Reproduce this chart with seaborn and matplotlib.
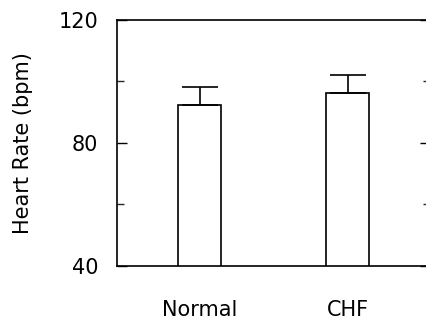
import matplotlib
matplotlib.use("Agg")
import matplotlib.pyplot as plt
from matplotlib.ticker import MultipleLocator
import seaborn as sns
import pandas as pd

groups = ["Normal", "CHF"]
heart_rate = [92.3, 96.3]
sem = [5.8, 5.8]
yticks = [40, 80, 120]

sns.set_style("ticks")
plt.rcParams["font.family"] = ["DejaVu Sans"]
plt.rcParams["axes.labelcolor"] = "black"
plt.rcParams["text.color"] = "black"

df = pd.DataFrame({"group": groups, "hr": heart_rate})

fig = plt.figure(figsize=(4.27, 3.21), dpi=100)
ax = fig.add_axes([117 / 427, 55.5 / 321, 313 / 427, 245.5 / 321])

sns.barplot(data=df, x="group", y="hr", color="white", edgecolor="black",
            linewidth=1.2, width=0.29, errorbar=None, ax=ax, saturation=1)
for p in ax.patches:
    p.set_facecolor("white")

ax.errorbar(range(len(groups)), heart_rate, yerr=[[0] * len(sem), sem],
            fmt="none", ecolor="black", elinewidth=1.2, capsize=13.3,
            capthick=1.2)

ax.set_xlim(-0.556, 1.553)
ax.set_ylim(40, 120)
ax.set_yticks(yticks)
ax.yaxis.set_minor_locator(MultipleLocator(20))
ax.tick_params(axis="y", which="major", direction="in", length=7.5, width=1.0,
               pad=13.5, labelsize=15, right=True, left=True, colors="black")
ax.tick_params(axis="y", which="minor", direction="in", length=5, width=1.0,
               right=True, left=True)
ax.tick_params(axis="x", length=0, pad=25, labelsize=15, colors="black")
ax.set_xlabel("")
ax.set_ylabel("Heart Rate (bpm)", fontsize=15, labelpad=18, color="black")
for s in ax.spines.values():
    s.set_linewidth(1.2)
    s.set_color("black")

fig.savefig("out.png", dpi=100)
